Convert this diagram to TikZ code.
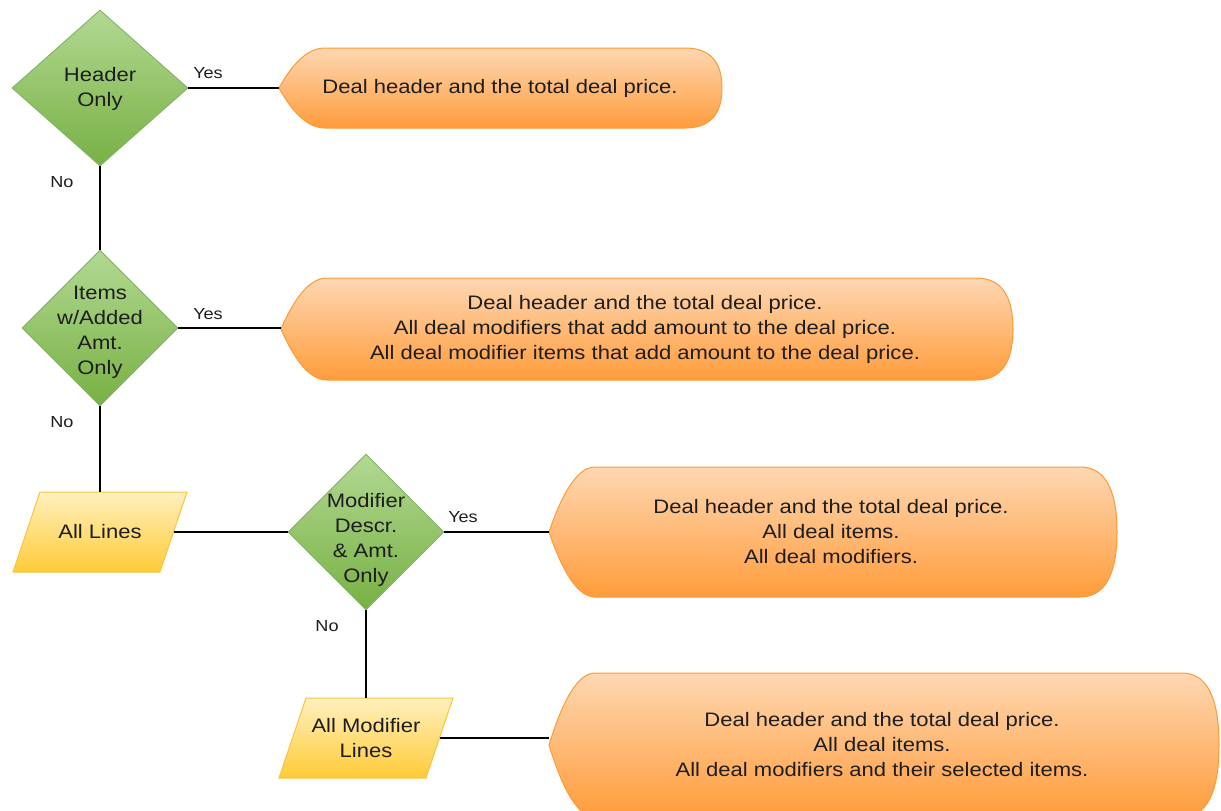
\documentclass[tikz,border=0pt]{standalone}
\usepackage{fontspec}
\setmainfont{Liberation Sans}[FakeStretch=1.13]
\usetikzlibrary{shapes.geometric}
\definecolor{txt}{HTML}{1E1E1E}
\definecolor{gtop}{HTML}{B2D892}
\definecolor{gbot}{HTML}{77B144}
\definecolor{gstroke}{HTML}{82B366}
\definecolor{ytop}{HTML}{FFF0BE}
\definecolor{ybot}{HTML}{FFCB36}
\definecolor{ystroke}{HTML}{F7C540}
\definecolor{otop}{HTML}{FED7B2}
\definecolor{obot}{HTML}{FF9C3B}
\definecolor{ostroke}{HTML}{FF9933}
\tikzset{
  decision/.style={shape=diamond, draw=gstroke, line width=0.9pt, top color=gtop, bottom color=gbot, inner sep=0pt},
  dectext/.style={align=center, text=txt, font=\fontsize{19.5}{25}\selectfont, inner sep=0pt},
  boxtext/.style={align=center, text=txt, font=\fontsize{19.5}{25}\selectfont, inner sep=0pt},
  dispstyle/.style={draw=ostroke, line width=1pt, top color=otop, bottom color=obot},
  iostyle/.style={draw=ystroke, line width=1pt, top color=ytop, bottom color=ybot},
  conn/.style={draw=black, line width=1.2pt},
  lbl/.style={text=txt, font=\fontsize{16}{18}\selectfont, inner sep=0pt},
}
\newcommand\dispshape[4]{%
  \path[dispstyle] (#1,{(#3+#4)/2})
    .. controls ({#1+14.7},{(#3+#4)/2-(#4-#3)/3}) and ({#1+30},#3) .. ({#1+46},#3)
    -- ({#2-37},#3)
    .. controls ({#2-12.3},#3) and (#2,{(#3+#4)/2-(#4-#3)/3}) .. (#2,{(#3+#4)/2})
    .. controls (#2,{(#3+#4)/2+(#4-#3)/3}) and ({#2-12.3},#4) .. ({#2-37},#4)
    -- ({#1+46},#4)
    .. controls ({#1+30},#4) and ({#1+14.7},{(#3+#4)/2+(#4-#3)/3}) .. cycle;}
\begin{document}
\begin{tikzpicture}[x=1pt,y=-1pt]
\useasboundingbox (0,0) rectangle (1221,811);
\clip (0,0) rectangle (1221,811);
\fill[white] (0,0) rectangle (1221,811);

% decisions
\node[decision, minimum width=176pt, minimum height=156pt] (d1) at (100,88) {};
\node[decision, minimum width=156pt, minimum height=156pt] (d2) at (100,328) {};
\node[decision, minimum width=156pt, minimum height=156pt] (d3) at (366,532) {};
\node[dectext] (d1t) at (100,89) {Header\\Only};
\node[dectext] (d2t) at (100,332.5) {Items\\w/Added\\Amt.\\Only};
\node[dectext] (d3t) at (366,540) {Modifier\\Descr.\\\& Amt.\\Only};

% display boxes
\dispshape{279}{722}{48}{128}
\dispshape{281}{1013}{278}{380}
\dispshape{549}{1117}{467}{597}
\dispshape{549}{1219}{673}{817}
\coordinate (b1v) at (279,88);
\coordinate (b2v) at (281,328);
\coordinate (b3v) at (549,532);
\coordinate (b4v) at (549,745);
\node[boxtext] (b1) at (500,88) {Deal header and the total deal price.};
\node[boxtext] (b2) at (645,329) {Deal header and the total deal price.\\All deal modifiers that add amount to the deal price.\\All deal modifier items that add amount to the deal price.};
\node[boxtext] (b3) at (831,532) {Deal header and the total deal price.\\All deal items.\\All deal modifiers.};
\node[boxtext] (b4) at (882,745) {Deal header and the total deal price.\\All deal items.\\All deal modifiers and their selected items.};

% data (parallelograms)
\path[iostyle] (40,492) -- (187,492) -- (160,572) -- (13,572) -- cycle;
\path[iostyle] (306,698) -- (453,698) -- (426,778) -- (279,778) -- cycle;
\coordinate (p1n) at (100,492);
\coordinate (p1e) at (173.5,532);
\coordinate (p2n) at (366,698);
\coordinate (p2e) at (439.5,738);
\node[boxtext] (p1) at (100,532) {All Lines};
\node[boxtext] (p2) at (366,738) {All Modifier\\Lines};

% connectors
\draw[conn] (d1.east) -- (b1v);
\draw[conn] (d1.south) -- (d2.north);
\draw[conn] (d2.east) -- (b2v);
\draw[conn] (d2.south) -- (p1n);
\draw[conn] (p1e) -- (d3.west);
\draw[conn] (d3.east) -- (b3v);
\draw[conn] (d3.south) -- (p2n);
\draw[conn] (p2e) -- (p2e -| b4v);

% labels
\node[lbl] (y1) at (208,73) {Yes};
\node[lbl] (n1) at (62,182) {No};
\node[lbl] (y2) at (208,314) {Yes};
\node[lbl] (n2) at (62,422) {No};
\node[lbl] (y3) at (463,517) {Yes};
\node[lbl] (n3) at (327,626) {No};
\end{tikzpicture}
\end{document}
